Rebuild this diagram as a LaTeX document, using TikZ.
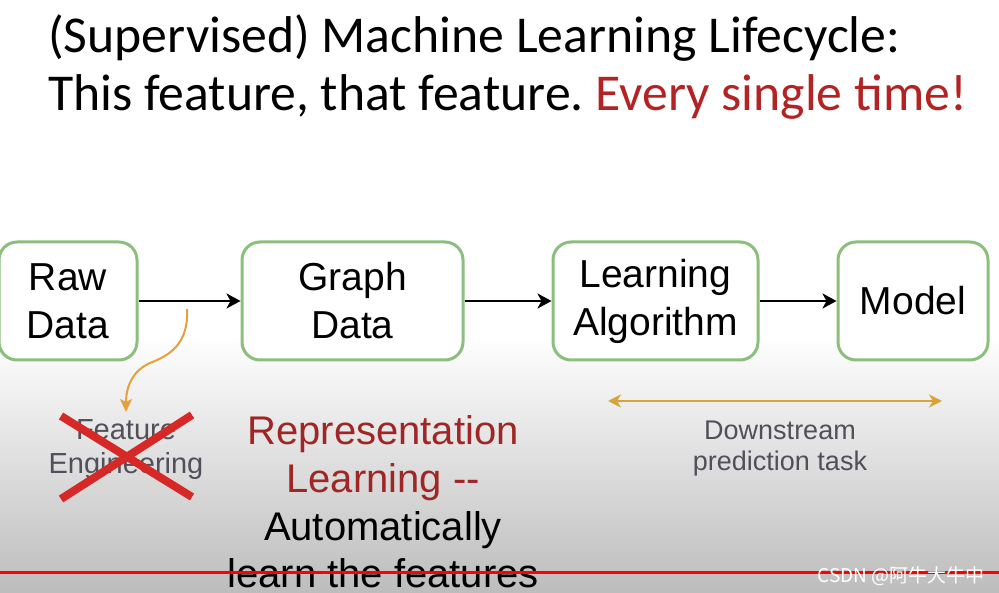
\documentclass[tikz,border=0pt]{standalone}
\usepackage{fontspec}
\setmainfont{Liberation Sans}
\newfontfamily\titlefont{Carlito}
\newfontfamily\cjkfont{Noto Sans CJK SC}
\usetikzlibrary{arrows.meta}
\definecolor{boxgreen}{RGB}{140,190,125}
\definecolor{titlered}{RGB}{180,35,35}
\definecolor{replred}{RGB}{160,38,38}
\definecolor{softgray}{RGB}{80,80,90}
\definecolor{curveorange}{RGB}{230,160,60}
\definecolor{goldline}{RGB}{215,165,55}
\definecolor{crossred}{RGB}{215,40,40}
\tikzset{
  stepbox/.style={draw=boxgreen, line width=3pt, rounded corners=18pt, fill=white,
    align=center, inner sep=0pt, minimum height=118pt,
    font=\fontsize{39}{48}\selectfont},
  flowarrow/.style={line width=2.8pt, -{Stealth[length=14pt,width=15pt,inset=4pt]}},
  titleline/.style={anchor=base west, inner sep=0pt, font=\titlefont\fontsize{51.7}{60}\selectfont},
  feline/.style={text=softgray, inner sep=0pt, anchor=base, font=\fontsize{29}{34}\selectfont},
  dsline/.style={text=softgray, inner sep=0pt, anchor=base, font=\fontsize{27}{32}\selectfont},
  rlline/.style={inner sep=0pt, anchor=base, font=\fontsize{40}{48}\selectfont},
}
\begin{document}
\frenchspacing
\begin{tikzpicture}[x=1pt,y=-1pt]
\useasboundingbox (0,0) rectangle (999,593);
\fill[white] (0,0) rectangle (999,335);
\shade[top color=white, bottom color=black!26] (0,335) rectangle (999,593);

% title
\node[titleline] (t1) at (48,53) {(Supervised) Machine Learning Lifecycle:};
\node[titleline] (t2) at (48,111) {This feature, that feature. \textcolor{titlered}{Every single time!}};

% boxes
\node[stepbox, minimum width=138pt] (raw) at (68,301) {Raw\\Data};
\node[stepbox, minimum width=221pt] (graph) at (352.5,301) {Graph\\Data};
\node[stepbox, minimum width=205pt] (learn) at (655.5,301) {Learning\\Algorithm};
\node[stepbox, minimum width=150pt] (model) at (913,301) {Model};

\draw[flowarrow] (raw) -- (graph);
\draw[flowarrow] (graph) -- (learn);
\draw[flowarrow] (learn) -- (model);

% feature engineering
\node[feline] (fe1) at (126,440) {Feature};
\node[feline] (fe2) at (126,474) {Engineering};
\coordinate (cs) at (187,309);
\coordinate (ce) at (126,412);
\draw[curveorange, line width=2pt, -{Stealth[length=13pt,width=12pt,inset=3pt]}]
  (cs) .. controls (189,345) and (168,356) .. (150,363) .. controls (134,370) and (126,385) .. (ce);
\coordinate (x1) at (61,416);
\coordinate (x2) at (192,497);
\coordinate (x3) at (192,415);
\coordinate (x4) at (61,499);
\draw[crossred, line width=8pt] (x1) -- (x2);
\draw[crossred, line width=8pt] (x3) -- (x4);

% representation learning
\node[rlline, text=replred] (rl1) at (383,445) {Representation};
\node[rlline, text=replred] (rl2) at (383,493) {Learning {-}{-}};
\node[rlline] (rl3) at (383,540) {Automatically};
\node[rlline] (rl4) at (383,587) {learn the features};

% downstream
\coordinate (dl) at (608,401);
\coordinate (dr) at (942,401);
\draw[goldline, line width=2.6pt, {Stealth[length=13pt,width=13pt,inset=4pt]}-{Stealth[length=13pt,width=13pt,inset=4pt]}] (dl) -- (dr);
\node[dsline] (ds1) at (780,440) {Downstream};
\node[dsline] (ds2) at (780,471) {prediction task};

% red line and watermark
\coordinate (rla) at (0,572);
\coordinate (rlb) at (999,572);
\draw[red, line width=3pt] (rla) -- (rlb);
\node[anchor=base east, inner sep=0pt, text=white, font=\cjkfont\fontsize{19}{21}\selectfont] (wm) at (985,582) {CSDN @阿牛大牛中};
\end{tikzpicture}
\end{document}
